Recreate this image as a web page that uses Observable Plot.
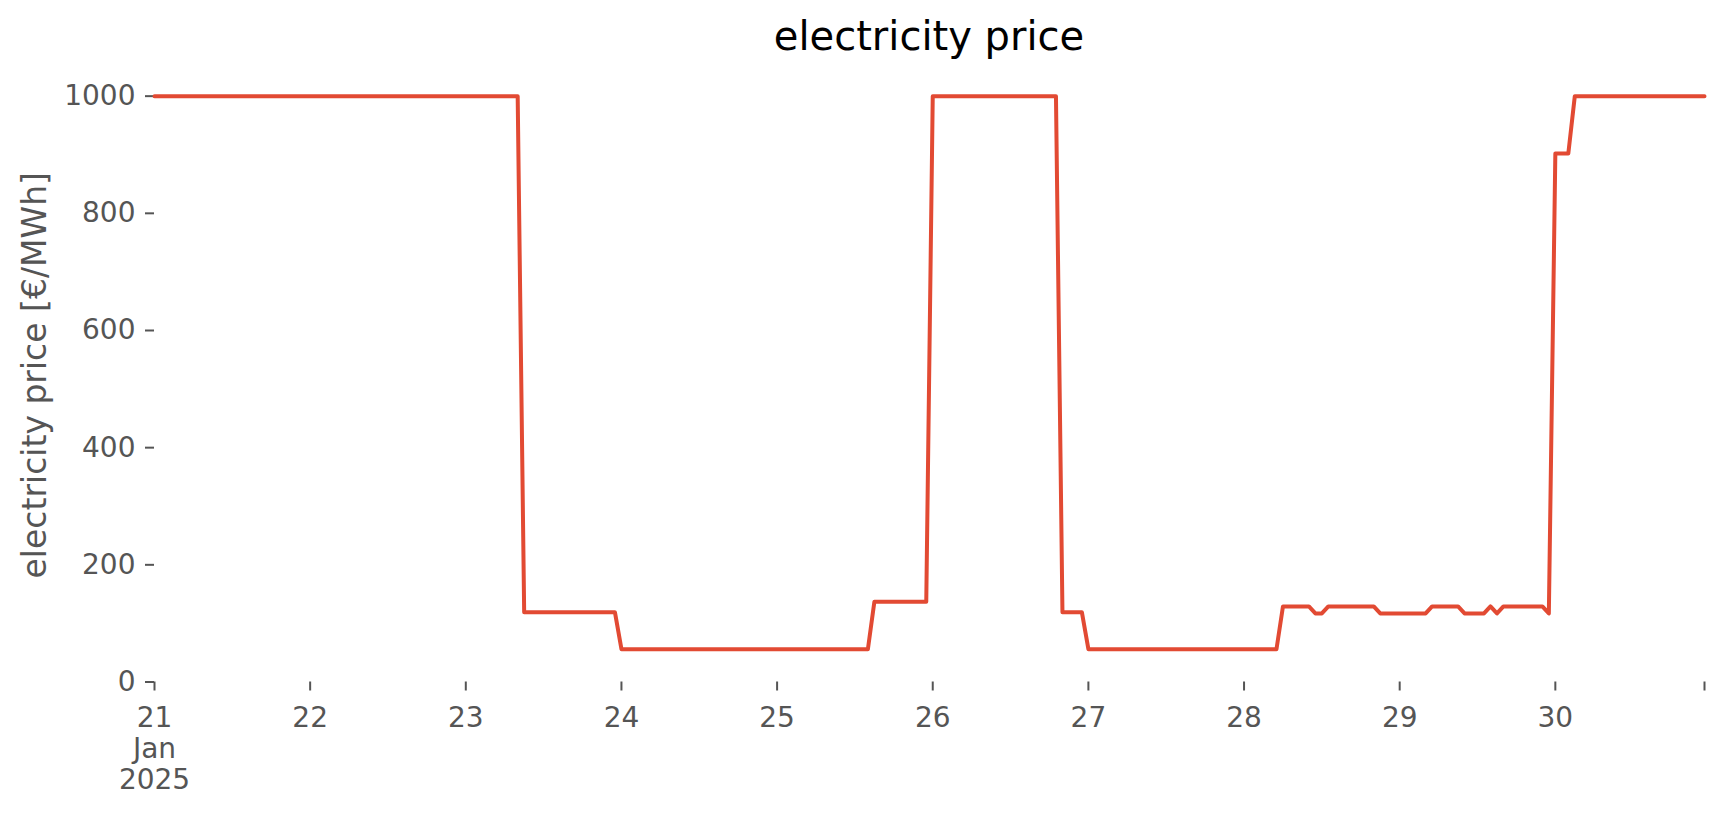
<!DOCTYPE html>
<html>
<head>
<meta charset="utf-8">
<script src="https://cdn.jsdelivr.net/npm/d3@7"></script>
<script src="https://cdn.jsdelivr.net/npm/@observablehq/plot@0.6"></script>
<style>
  body { margin: 0; background: #fff; font-family: "DejaVu Sans", sans-serif; }
  #title { height: 66px; line-height: 66px; margin-left: 154px; width: 1550px; text-align: center; font-size: 40px; color: #000; position: relative; top: 3px; }
  #chart svg { display: block; }
</style>
</head>
<body>
<div id="title">electricity price</div>
<div id="chart"></div>
<script>
// Breakpoints of the hourly price series (UTC)
const times = [
  "2025-01-21T00:00Z", "2025-01-23T08:00Z", "2025-01-23T09:00Z", "2025-01-23T23:00Z",
  "2025-01-24T00:00Z", "2025-01-25T14:00Z", "2025-01-25T15:00Z", "2025-01-25T23:00Z",
  "2025-01-26T00:00Z", "2025-01-26T19:00Z", "2025-01-26T20:00Z", "2025-01-26T23:00Z",
  "2025-01-27T00:00Z", "2025-01-28T05:00Z", "2025-01-28T06:00Z", "2025-01-28T10:00Z",
  "2025-01-28T11:00Z", "2025-01-28T12:00Z", "2025-01-28T13:00Z", "2025-01-28T20:00Z",
  "2025-01-28T21:00Z", "2025-01-29T04:00Z", "2025-01-29T05:00Z", "2025-01-29T09:00Z",
  "2025-01-29T10:00Z", "2025-01-29T13:00Z", "2025-01-29T14:00Z", "2025-01-29T15:00Z",
  "2025-01-29T16:00Z", "2025-01-29T22:00Z", "2025-01-29T23:00Z", "2025-01-30T00:00Z",
  "2025-01-30T02:00Z", "2025-01-30T03:00Z", "2025-01-30T23:00Z"
];
const prices = [
  1000, 1000, 119, 119,
  56, 56, 137, 137,
  1000, 1000, 119, 119,
  56, 56, 129, 129,
  117, 117, 129, 129,
  117, 117, 129, 129,
  117, 117, 129, 117,
  129, 129, 117, 902,
  902, 1000, 1000
];
const yTicks = [0, 200, 400, 600, 800, 1000];
const xTickTimes = [
  "2025-01-21T00:00Z", "2025-01-22T00:00Z", "2025-01-23T00:00Z", "2025-01-24T00:00Z",
  "2025-01-25T00:00Z", "2025-01-26T00:00Z", "2025-01-27T00:00Z", "2025-01-28T00:00Z",
  "2025-01-29T00:00Z", "2025-01-30T00:00Z", "2025-01-30T23:00Z"
];
const xTickLabels = ["21\nJan\n2025", "22", "23", "24", "25", "26", "27", "28", "29", "30", ""];
const yLabel = "electricity price [€/MWh]";
const lineColor = "#E24A33";

const data = times.map((t, i) => ({t: new Date(t), v: prices[i]}));
const xTickDates = xTickTimes.map(t => new Date(t));
const labelMap = new Map(xTickDates.map((d, i) => [+d, xTickLabels[i]]));

const plot = Plot.plot({
  width: 1724,
  height: 749,
  marginTop: 2,
  marginBottom: 133.5,
  marginLeft: 154,
  marginRight: 20,
  style: {fontFamily: '"DejaVu Sans", sans-serif', fontSize: "28px", color: "#555", background: "#fff"},
  x: {type: "utc", domain: [new Date(times[0]), new Date(times[times.length - 1])]},
  y: {domain: [0, 1047.2]},
  marks: [
    Plot.axisY({ticks: yTicks, tickFormat: d => String(d), tickSize: 9, tickPadding: 10, strokeWidth: 2, label: null}),
    Plot.axisX({ticks: xTickDates, tickFormat: d => labelMap.get(+d) ?? "", tickSize: 9, tickPadding: 14, strokeWidth: 2, label: null, lineHeight: 1.11}),
    Plot.line(data, {x: "t", y: "v", stroke: lineColor, strokeWidth: 4, strokeLinejoin: "round"}),
    Plot.text([yLabel], {text: d => d, frameAnchor: "left", textAnchor: "middle", rotate: -90, dx: -119, fontSize: 33, fill: "#555"})
  ]
});
document.getElementById("chart").appendChild(plot);
</script>
</body>
</html>
